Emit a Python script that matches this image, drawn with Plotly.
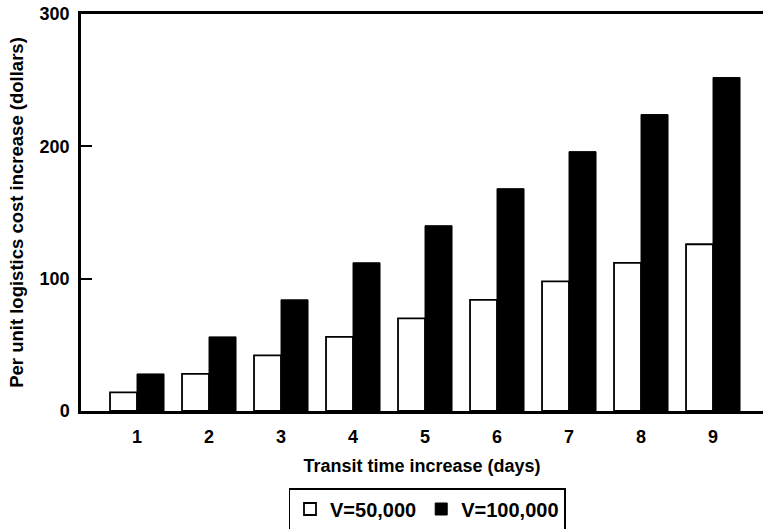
import plotly.graph_objects as go

days = [1, 2, 3, 4, 5, 6, 7, 8, 9]
v50k = [14, 28, 42, 56, 70, 84, 98, 112, 126]
v100k = [28, 56, 84, 112, 140, 168, 196, 224, 252]
y_ticks = [0, 100, 200, 300]

FONT = "Liberation Sans, Arial, sans-serif"

fig = go.Figure()
fig.add_trace(go.Bar(x=days, y=v50k, name="V=50,000",
                     marker=dict(color="white", line=dict(color="black", width=1.8))))
fig.add_trace(go.Bar(x=days, y=v100k, name="V=100,000",
                     marker=dict(color="black", line=dict(color="black", width=1))))

fig.update_layout(
    width=763, height=529,
    margin=dict(l=81, r=0, t=14, b=118, autoexpand=False),
    paper_bgcolor="white", plot_bgcolor="white",
    barmode="group", bargap=0.25, bargroupgap=0,
    font=dict(family=FONT, size=18, color="black", weight="bold"),
    showlegend=True,
    legend=dict(orientation="h", xref="container", x=427 / 763, xanchor="center",
                yref="container", y=(529 - 488) / 529, yanchor="top",
                bordercolor="black", borderwidth=1.5,
                font=dict(size=20, family=FONT, weight="bold"),
                itemwidth=30, tracegroupgap=0),
    xaxis=dict(range=[0.222, 9.694], tickmode="array", tickvals=days,
               ticktext=[str(d) for d in days], ticks="", showgrid=False,
               showline=True, linecolor="black", linewidth=2.5, mirror=True,
               ticklabelstandoff=8, zeroline=False, automargin=False,
               title=dict(text="Transit time increase (days)", standoff=14,
                          font=dict(size=18, weight="bold")),
               tickfont=dict(size=18, weight="bold")),
    yaxis=dict(range=[0, 300], tickmode="array", tickvals=y_ticks,
               ticktext=[str(t) for t in y_ticks], ticks="inside", ticklen=11,
               tickwidth=2, tickcolor="black", showgrid=False, zeroline=False,
               showline=True, linecolor="black", linewidth=2.5, ticklabelstandoff=5,
               automargin=False,
               title=dict(text="Per unit logistics cost increase (dollars)",
                          standoff=12, font=dict(size=18.5, weight="bold")),
               tickfont=dict(size=18, weight="bold")),
)

fig.write_html("out.html", config={"displayModeBar": False},
               post_script="document.body.style.margin='0';")
